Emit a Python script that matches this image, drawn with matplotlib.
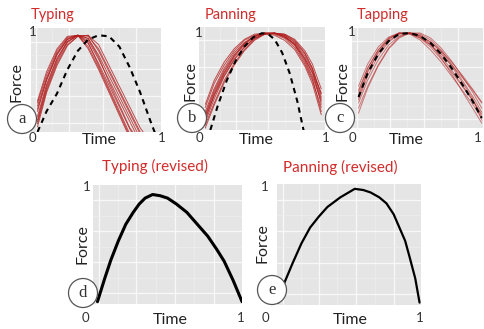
import numpy as np
import matplotlib
matplotlib.use("Agg")
import matplotlib.pyplot as plt
from matplotlib.patches import Ellipse

nan = np.nan

# ---------------- data ----------------
titles = ["Typing", "Panning", "Tapping", "Typing (revised)", "Panning (revised)"]
panel_letters = ["a", "b", "c", "d", "e"]
x_label = "Time"
y_label = "Force"
tick_lo = "0"
tick_hi = "1"

# (a) Typing
typing_x = [0.05, 0.12, 0.20, 0.28, 0.36, 0.44, 0.52, 0.60, 0.68, 0.76, 0.84, 0.92]
typing_red = [
    [0.30, 0.58, 0.80, 0.92, 0.93, 0.80, 0.60, 0.38, 0.16, -0.06, nan, nan],
    [0.20, 0.50, 0.74, 0.89, 0.93, 0.85, 0.66, 0.45, 0.24, 0.03, -0.15, nan],
    [0.10, 0.42, 0.68, 0.86, 0.93, 0.88, 0.70, 0.50, 0.30, 0.10, -0.10, nan],
    [0.05, 0.38, 0.64, 0.83, 0.92, 0.93, 0.78, 0.58, 0.38, 0.18, -0.02, nan],
    [0.25, 0.52, 0.76, 0.90, 0.93, 0.86, 0.64, 0.42, 0.20, -0.02, nan, nan],
    [0.15, 0.46, 0.71, 0.87, 0.93, 0.90, 0.74, 0.54, 0.34, 0.14, -0.06, nan],
    [0.08, 0.40, 0.66, 0.84, 0.92, 0.93, 0.84, 0.64, 0.44, 0.24, 0.04, -0.10],
    [0.28, 0.55, 0.78, 0.91, 0.93, 0.82, 0.62, 0.40, 0.18, -0.04, nan, nan],
    [0.12, 0.44, 0.70, 0.87, 0.93, 0.90, 0.72, 0.48, 0.26, 0.04, -0.10, nan],
    [0.22, 0.50, 0.75, 0.89, 0.93, 0.92, 0.80, 0.60, 0.40, 0.20, 0.00, nan],
]
typing_ref_x = [0.05, 0.12, 0.20, 0.28, 0.36, 0.44, 0.52, 0.60, 0.68, 0.76, 0.84, 0.92, 0.96]
typing_ref_y = [0.00, 0.20, 0.37, 0.60, 0.78, 0.89, 0.93, 0.92, 0.82, 0.62, 0.38, 0.10, -0.03]

# (b) Panning
panning_x = [0.05, 0.12, 0.20, 0.28, 0.36, 0.44, 0.52, 0.60, 0.68, 0.76, 0.84, 0.90, 0.97]
panning_red = [
    [0.15, 0.38, 0.58, 0.73, 0.84, 0.91, 0.94, 0.94, 0.91, 0.83, 0.68, 0.52, 0.28],
    [0.08, 0.30, 0.52, 0.68, 0.80, 0.89, 0.93, 0.94, 0.92, 0.86, 0.74, 0.60, 0.35],
    [0.22, 0.45, 0.63, 0.77, 0.87, 0.92, 0.94, 0.93, 0.89, 0.80, 0.64, 0.48, 0.22],
    [0.10, 0.34, 0.55, 0.71, 0.83, 0.90, 0.94, 0.94, 0.90, 0.82, 0.66, 0.50, 0.18],
    [0.05, 0.26, 0.48, 0.65, 0.78, 0.88, 0.93, 0.94, 0.93, 0.88, 0.77, 0.64, 0.40],
    [0.18, 0.40, 0.60, 0.75, 0.85, 0.91, 0.94, 0.94, 0.90, 0.84, 0.70, 0.55, 0.30],
    [0.12, 0.33, 0.53, 0.69, 0.81, 0.89, 0.93, 0.94, 0.92, 0.85, 0.72, 0.58, 0.25],
    [0.25, 0.48, 0.66, 0.79, 0.88, 0.93, 0.94, 0.92, 0.87, 0.78, 0.62, 0.45, 0.15],
    [0.02, 0.24, 0.46, 0.63, 0.77, 0.87, 0.93, 0.94, 0.93, 0.87, 0.75, 0.60, 0.32],
    [0.14, 0.36, 0.56, 0.72, 0.84, 0.91, 0.94, 0.94, 0.91, 0.83, 0.69, 0.56, 0.36],
]
panning_ref_x = [0.09, 0.15, 0.22, 0.29, 0.36, 0.43, 0.50, 0.55, 0.60, 0.66, 0.72, 0.78, 0.84]
panning_ref_y = [0.00, 0.24, 0.48, 0.67, 0.81, 0.90, 0.94, 0.93, 0.88, 0.75, 0.55, 0.28, -0.06]

# (c) Tapping
tapping_x = [0.05, 0.12, 0.20, 0.28, 0.36, 0.44, 0.52, 0.60, 0.68, 0.76, 0.84, 0.92, 0.99]
tapping_red = [
    [0.38, 0.60, 0.78, 0.89, 0.95, 0.95, 0.92, 0.86, 0.77, 0.66, 0.53, 0.39, 0.26],
    [0.25, 0.48, 0.68, 0.83, 0.92, 0.95, 0.94, 0.88, 0.78, 0.64, 0.48, 0.32, 0.16],
    [0.20, 0.42, 0.63, 0.80, 0.91, 0.95, 0.93, 0.84, 0.70, 0.54, 0.37, 0.20, 0.05],
    [0.30, 0.56, 0.76, 0.89, 0.95, 0.95, 0.90, 0.81, 0.69, 0.56, 0.42, 0.28, 0.14],
    [0.42, 0.64, 0.81, 0.91, 0.95, 0.94, 0.90, 0.83, 0.74, 0.63, 0.51, 0.38, 0.25],
    [0.15, 0.40, 0.62, 0.79, 0.90, 0.95, 0.95, 0.90, 0.80, 0.67, 0.52, 0.36, 0.20],
    [0.33, 0.57, 0.75, 0.87, 0.94, 0.95, 0.91, 0.83, 0.72, 0.58, 0.43, 0.28, 0.12],
    [0.28, 0.52, 0.72, 0.86, 0.94, 0.95, 0.92, 0.86, 0.76, 0.62, 0.46, 0.30, 0.08],
    [0.36, 0.60, 0.78, 0.90, 0.95, 0.94, 0.88, 0.78, 0.66, 0.52, 0.38, 0.24, 0.10],
]
tapping_ref_x = tapping_x
tapping_ref_y = [0.31, 0.55, 0.74, 0.87, 0.94, 0.95, 0.92, 0.85, 0.74, 0.60, 0.44, 0.27, 0.10]

# (d) Typing (revised)
typing_rev_x = [0.03, 0.08, 0.12, 0.17, 0.22, 0.27, 0.31, 0.35, 0.40, 0.45, 0.50,
                0.56, 0.63, 0.70, 0.77, 0.83, 0.88, 0.94, 1.00]
typing_rev_y = [0.02, 0.22, 0.37, 0.53, 0.67, 0.77, 0.84, 0.89, 0.92, 0.91, 0.89,
                0.84, 0.77, 0.67, 0.57, 0.46, 0.36, 0.20, 0.02]

# (e) Panning (revised)
panning_rev_x = [0.01, 0.05, 0.11, 0.17, 0.23, 0.29, 0.35, 0.44, 0.54, 0.60, 0.65,
                 0.71, 0.76, 0.81, 0.85, 0.89, 0.92, 0.96, 0.99]
panning_rev_y = [0.02, 0.18, 0.35, 0.51, 0.64, 0.73, 0.81, 0.89, 0.96, 0.95, 0.93,
                 0.89, 0.84, 0.75, 0.64, 0.53, 0.40, 0.22, 0.02]

# ---------------- layout / style ----------------
W, H = 484, 329
fig = plt.figure(figsize=(W / 100, H / 100), dpi=100)
fig.patch.set_facecolor("white")

TITLE_C = "#D22B2B"
RED = "#B01C1C"
BG = "#E5E5E5"
SANS = ["Lato", "DejaVu Sans"]
SERIF = ["Liberation Serif", "DejaVu Serif"]


def px_axes(l, t, r, b):
    return fig.add_axes([l / W, 1 - b / H, (r - l) / W, (b - t) / H])


def style(ax, vmaj, hmaj):
    ax.set_facecolor(BG)
    ax.set_xlim(0, 1)
    ax.set_ylim(0, 1)
    for s in ax.spines.values():
        s.set_visible(False)
    ax.set_xticks(vmaj)
    ax.set_yticks(hmaj)
    vmin = [(vmaj[i] + vmaj[i + 1]) / 2 for i in range(len(vmaj) - 1)]
    hmin = [(hmaj[i] + hmaj[i + 1]) / 2 for i in range(len(hmaj) - 1)]
    ax.set_xticks(vmin, minor=True)
    ax.set_yticks(hmin, minor=True)
    ax.grid(True, which="major", color="#F8F8F8", lw=0.9)
    ax.grid(True, which="minor", color="#EEEEEE", lw=0.5)
    ax.tick_params(which="both", length=0, labelbottom=False, labelleft=False)
    ax.set_axisbelow(True)


def txt(x, y, s, size, color="#222222", family=SANS, rot=0, ha="center", va="center"):
    fig.text(x / W, 1 - y / H, s, fontsize=size, color=color, family=family,
             rotation=rot, ha=ha, va=va)


def circle(cx, cy, r, letter):
    e = Ellipse((cx / W, 1 - cy / H), 2 * r / W, 2 * r / H, transform=fig.transFigure,
                facecolor="white", edgecolor="#555555", lw=0.9, zorder=10)
    fig.add_artist(e)
    fig.text(cx / W, 1 - cy / H, letter, fontsize=12, family=SERIF, color="#333333",
             ha="center", va="center", zorder=11)


vgrid = [0.04, 0.29, 0.55, 0.81]
hgrid = [0.09, 0.35, 0.61, 0.87]

panels = [
    dict(box=(31, 28, 161, 132), title=(53, 15), force=(17, 82), time=(99, 140),
         zero=(32, 138), one=(162, 138), ytop=(33, 32), circ=(22, 119)),
    dict(box=(199, 27, 325, 130), title=(231, 15), force=(190, 81), time=(256, 140),
         zero=(199, 138), one=(326, 138), ytop=(199, 33), circ=(192, 118)),
    dict(box=(352, 28, 483, 128), title=(383, 15), force=(342, 81), time=(406, 140),
         zero=(352, 138), one=(478, 138), ytop=(352, 32), circ=(340, 118)),
    dict(box=(93, 185, 242, 304), title=(155, 166), force=(82, 244), time=(170, 320),
         zero=(85, 318), one=(241, 318), ytop=(87, 187), circ=(83, 293)),
    dict(box=(277, 184, 421, 305), title=(340, 167), force=(262, 243), time=(350, 320),
         zero=(265, 318), one=(420, 318), ytop=(265, 187), circ=(272, 290)),
]

axes = []
for p in panels:
    ax = px_axes(*p["box"])
    style(ax, vgrid, hgrid)
    axes.append(ax)

DASH = (0, (2.6, 2.2))
for ys in typing_red:
    axes[0].plot(typing_x, ys, color=RED, lw=0.7, alpha=0.75)
axes[0].plot(typing_ref_x, typing_ref_y, color="black", lw=1.5, ls=DASH)

for ys in panning_red:
    axes[1].plot(panning_x, ys, color=RED, lw=0.7, alpha=0.75)
axes[1].plot(panning_ref_x, panning_ref_y, color="black", lw=1.5, ls=DASH)

for ys in tapping_red:
    axes[2].plot(tapping_x, ys, color=RED, lw=0.7, alpha=0.55)
axes[2].plot(tapping_ref_x, tapping_ref_y, color="black", lw=1.5, ls=DASH)

axes[3].plot(typing_rev_x, typing_rev_y, color="black", lw=2.2, solid_capstyle="round")
axes[4].plot(panning_rev_x, panning_rev_y, color="black", lw=1.6, solid_capstyle="round")

for i, p in enumerate(panels):
    txt(*p["title"], titles[i], 10.5 if i < 3 else 11, color=TITLE_C)
    txt(*p["force"], y_label, 11.5, rot=90)
    txt(*p["time"], x_label, 11.5)
    txt(*p["zero"], tick_lo, 9.5, color="#333333")
    txt(*p["one"], tick_hi, 9.5, color="#333333")
    txt(*p["ytop"], tick_hi, 9.5, color="#333333")
    circle(*p["circ"], 14.5, panel_letters[i])

fig.savefig("out.png", dpi=100)
